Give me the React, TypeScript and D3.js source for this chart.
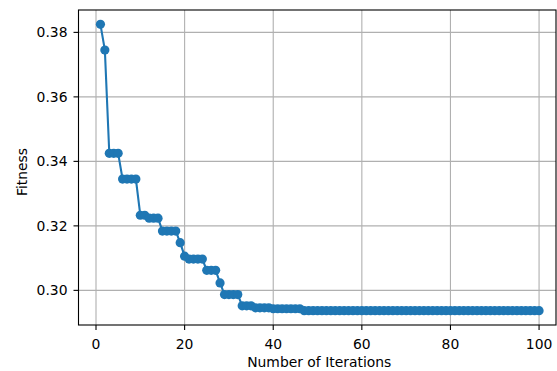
import React from "react";
import * as d3 from "d3";

const iterations: number[] = [
  1, 2, 3, 4, 5, 6, 7, 8, 9, 10, 11, 12, 13, 14, 15, 16, 17, 18, 19, 20,
  21, 22, 23, 24, 25, 26, 27, 28, 29, 30, 31, 32, 33, 34, 35, 36, 37, 38, 39, 40,
  41, 42, 43, 44, 45, 46, 47, 48, 49, 50, 51, 52, 53, 54, 55, 56, 57, 58, 59, 60,
  61, 62, 63, 64, 65, 66, 67, 68, 69, 70, 71, 72, 73, 74, 75, 76, 77, 78, 79, 80,
  81, 82, 83, 84, 85, 86, 87, 88, 89, 90, 91, 92, 93, 94, 95, 96, 97, 98, 99, 100,
];

const fitness: number[] = [
  0.3825, 0.3745, 0.3425, 0.3425, 0.3425, 0.3345, 0.3345, 0.3345, 0.3345, 0.3233,
  0.3233, 0.3224, 0.3224, 0.3224, 0.3184, 0.3184, 0.3184, 0.3184, 0.3148, 0.3106,
  0.3097, 0.3097, 0.3097, 0.3097, 0.3062, 0.3062, 0.3062, 0.3023, 0.2987, 0.2987,
  0.2987, 0.2987, 0.2952, 0.2952, 0.2952, 0.2946, 0.2946, 0.2946, 0.2946, 0.2943,
  0.2943, 0.2943, 0.2943, 0.2943, 0.2943, 0.2943, 0.2937, 0.2937, 0.2937, 0.2937,
  0.2937, 0.2937, 0.2937, 0.2937, 0.2937, 0.2937, 0.2937, 0.2937, 0.2937, 0.2937,
  0.2937, 0.2937, 0.2937, 0.2937, 0.2937, 0.2937, 0.2937, 0.2937, 0.2937, 0.2937,
  0.2937, 0.2937, 0.2937, 0.2937, 0.2937, 0.2937, 0.2937, 0.2937, 0.2937, 0.2937,
  0.2937, 0.2937, 0.2937, 0.2937, 0.2937, 0.2937, 0.2937, 0.2937, 0.2937, 0.2937,
  0.2937, 0.2937, 0.2937, 0.2937, 0.2937, 0.2937, 0.2937, 0.2937, 0.2937, 0.2937,
];

const xTicks: number[] = [0, 20, 40, 60, 80, 100];
const yTicks: number[] = [0.3, 0.32, 0.34, 0.36, 0.38];

const W = 557;
const H = 371;
const left = 78.5;
const right = 556;
const top = 10;
const bottom = 325;
const FONT = "DejaVu Sans";
const BLUE = "#1f77b4";

export default function App() {
  const xMin = d3.min(iterations)!;
  const xMax = d3.max(iterations)!;
  const xPad = (xMax - xMin) * 0.05;
  const yMin = d3.min(fitness)!;
  const yMax = d3.max(fitness)!;
  const yPad = (yMax - yMin) * 0.05;

  const x = d3.scaleLinear().domain([xMin - xPad, xMax + xPad]).range([left, 561]);
  const y = d3.scaleLinear().domain([yMin - yPad, yMax + yPad]).range([bottom, top]);

  const pts = iterations.map((it, i) => [it, fitness[i]] as [number, number]);
  const line = d3
    .line<[number, number]>()
    .x((d) => x(d[0]))
    .y((d) => y(d[1]))(pts);

  return (
    <svg
      width={W}
      height={H}
      style={{ position: "absolute", left: 0, top: 0, background: "#fff" }}
      fontFamily={FONT}
    >
      <rect x={0} y={0} width={W} height={H} fill="#fff" />
      <defs>
        <clipPath id="plotclip">
          <rect x={left} y={top} width={right - left} height={bottom - top} />
        </clipPath>
      </defs>
      <g stroke="#b0b0b0" strokeWidth={1.1}>
        {xTicks.map((t) => (
          <line key={"gx" + t} x1={x(t)} x2={x(t)} y1={top} y2={bottom} />
        ))}
        {yTicks.map((t) => (
          <line key={"gy" + t} x1={left} x2={right} y1={y(t)} y2={y(t)} />
        ))}
      </g>
      <g clipPath="url(#plotclip)">
        <path d={line!} fill="none" stroke={BLUE} strokeWidth={2.1} />
        {pts.map((d, i) => (
          <circle key={i} cx={x(d[0])} cy={y(d[1])} r={4.6} fill={BLUE} />
        ))}
      </g>
      <rect
        x={left}
        y={top}
        width={right - left}
        height={bottom - top}
        fill="none"
        stroke="#000"
        strokeWidth={1.1}
      />
      {xTicks.map((t) => (
        <g key={"xt" + t}>
          <line x1={x(t)} x2={x(t)} y1={bottom} y2={bottom + 5} stroke="#000" strokeWidth={1.1} />
          <text x={x(t)} y={bottom + 24} textAnchor="middle" fontSize={13.9} fill="#000">
            {t}
          </text>
        </g>
      ))}
      {yTicks.map((t) => (
        <g key={"yt" + t}>
          <line x1={left - 5} x2={left} y1={y(t)} y2={y(t)} stroke="#000" strokeWidth={1.1} />
          <text
            x={left - 11}
            y={y(t)}
            dy="0.36em"
            textAnchor="end"
            fontSize={13.9}
            fill="#000"
          >
            {d3.format(".2f")(t)}
          </text>
        </g>
      ))}
      <text x={(left + right) / 2 + 2} y={367} textAnchor="middle" fontSize={13.9} fill="#000">
        Number of Iterations
      </text>
      <text
        transform={`translate(27,172) rotate(-90)`}
        textAnchor="middle"
        fontSize={13.9}
        fill="#000"
      >
        Fitness
      </text>
    </svg>
  );
}
